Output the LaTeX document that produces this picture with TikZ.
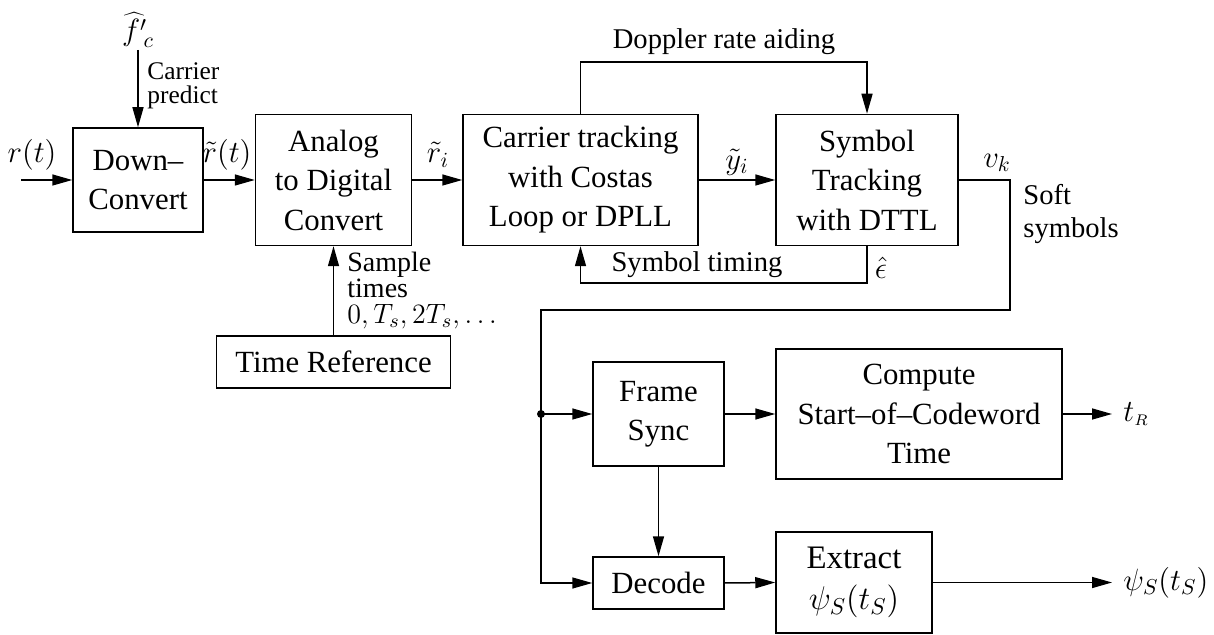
\RequirePackage{fix-cm}
\documentclass[tikz,border=0pt]{standalone}
\usepackage{fontspec}
\setmainfont{Liberation Serif}
\usetikzlibrary{arrows.meta}

\newcommand\boxfont{\fontsize{15.4}{19.75}\selectfont}
\newcommand\extfont{\fontsize{16.4}{20.5}\selectfont}
\newcommand\lblfont{\fontsize{14.3}{16.5}\selectfont}
\newcommand\smallfont{\fontsize{12.7}{12}\selectfont}
\newcommand\sampfont{\fontsize{14}{12.8}\selectfont}

\tikzset{
  blk/.style={draw, line width=0.75pt, align=center, inner sep=0pt, font=\boxfont},
  sig/.style={line width=0.75pt, -{Triangle[length=10pt,width=5.5pt]}},
  wire/.style={line width=0.75pt},
  lbl/.style={font=\lblfont, inner sep=0pt},
  mlbl/.style={font=\boxfont, inner sep=0pt},
}

\begin{document}
\begin{tikzpicture}[x=0.5pt,y=-0.5pt]
\useasboundingbox (0,0) rectangle (1214,635);

% processing blocks
\node[blk, minimum width=65pt, minimum height=52pt] (dc) at (138,180) {Down–\\Convert};
\node[blk, minimum width=78pt, minimum height=65.5pt] (adc) at (333.5,180) {Analog\\to Digital\\Convert};
\node[blk, minimum width=117.5pt, minimum height=65.5pt] (ct) at (580.5,180) {Carrier tracking\\with Costas\\Loop or DPLL};
\node[blk, minimum width=91pt, minimum height=65.5pt] (st) at (867,180) {Symbol\\Tracking\\with DTTL};
\node[blk, minimum width=117pt, minimum height=26pt] (tr) at (333.5,362) {Time Reference};
\node[blk, minimum width=65.5pt, minimum height=52pt] (fs) at (658.5,414) {Frame\\Sync};
\node[blk, minimum width=143pt, minimum height=65pt] (cw) at (919,414) {Compute\\Start–of–Codeword\\Time};
\node[blk, minimum width=65.5pt, minimum height=26pt] (dec) at (658.5,583) {Decode};
\node[blk, minimum width=78pt, minimum height=50.5pt, font=\extfont] (ex) at (854,582.5) {Extract\\$\psi_S(t_S)$};

% free ends and routing points
\coordinate (rin) at (21,180);
\coordinate (fin) at (138,50);
\coordinate (dtop) at (0,62);
\coordinate (sbot) at (0,283);
\coordinate (vr) at (1010,310);
\coordinate (bus) at (541,414);
\coordinate (tro) at (1112,414);
\coordinate (pso) at (1112,582.5);

% forward chain
\draw[sig] (rin) -- (dc.west);
\draw[sig] (fin) -- (dc.north);
\draw[sig] (dc.east) -- (adc.west);
\draw[sig] (adc.east) -- (ct.west);
\draw[sig] (ct.east) -- (st.west);
\draw[sig] (tr.north) -- (adc.south);

% aiding and feedback loops
\draw[sig] (ct.north) -- (ct.north |- dtop) -- (st.north |- dtop) -- (st.north);
\draw[sig] (st.south) -- (st.south |- sbot) -- (ct.south |- sbot) -- (ct.south);

% soft symbol bus
\draw[wire] (st.east) -| (vr) -- (vr -| bus) -- (bus);
\draw[sig] (bus) |- (dec.west);
\draw[sig] (bus) -- (fs.west);
\fill (bus) circle (2pt);

% back end
\draw[sig] (fs.east) -- (cw.west);
\draw[sig] (fs.south) -- (dec.north);
\draw[sig] (dec.east) -- (ex.west);
\draw[sig] (cw.east) -- (tro);
\draw[sig] (ex.east) -- (pso);

% signal labels
\node[mlbl] (lr) at (32,155) {$r(t)$};
\node[mlbl] (lf) at (138,30) {$\widehat{f'}_{\!c}$};
\node[font=\smallfont, inner sep=0pt, align=left, anchor=west] (lcp) at (147,86) {Carrier\\predict};
\node[mlbl] (lrt) at (227,155) {$\tilde r(t)$};
\node[mlbl] (lri) at (438,155) {$\tilde r_i$};
\node[mlbl] (lyi) at (737,162) {$\tilde y_i$};
\node[mlbl] (lvk) at (997,163) {$v_k$};
\node[mlbl] (leps) at (881,268) {$\hat\epsilon$};
\node[lbl] (ldop) at (724,42) {Doppler rate aiding};
\node[lbl] (lsym) at (697,265) {Symbol timing};
\node[lbl, align=left, anchor=west] (lsoft) at (1023,214) {Soft\\symbols};
\node[font=\sampfont, inner sep=0pt, align=left, anchor=north west] (lsamp) at (347,252) {Sample\\times\\$0,T_s,2T_s,\ldots$};
\node[mlbl, anchor=west] (ltr) at (1123,414) {$t_{\scriptscriptstyle R}$};
\node[mlbl, anchor=west] (lpsi) at (1123,582.5) {$\psi_S(t_S)$};
\end{tikzpicture}
\end{document}
